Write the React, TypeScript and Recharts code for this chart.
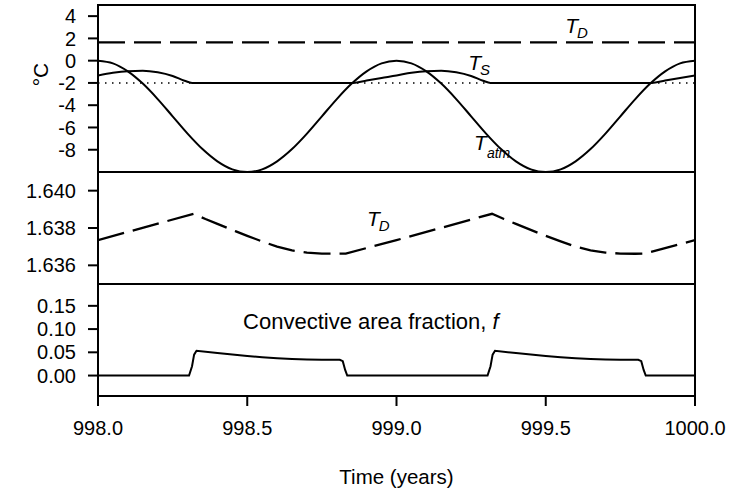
import React from 'react';
import { LineChart, Line, XAxis, YAxis, ReferenceArea, ReferenceLine, ReferenceDot } from 'recharts';

const FONT = '"Liberation Sans", Arial, Helvetica, sans-serif';

// Tick labels
const X_TICKS = [998, 998.5, 999, 999.5, 1000];
const TEMP_TICKS = [4, 2, 0, -2, -4, -6, -8];
const DEEP_TICKS = [1.636, 1.638, 1.64];
const FRAC_TICKS = [0, 0.05, 0.1, 0.15];

// Atmospheric temperature (°C)
const atmTimes = [998.0, 998.05, 998.1, 998.15, 998.2, 998.25, 998.3, 998.35, 998.4, 998.45, 998.5, 998.55, 998.6, 998.65, 998.7, 998.75, 998.8, 998.85, 998.9, 998.95, 999.0, 999.05, 999.1, 999.15, 999.2, 999.25, 999.3, 999.35, 999.4, 999.45, 999.5, 999.55, 999.6, 999.65, 999.7, 999.75, 999.8, 999.85, 999.9, 999.95, 1000.0];
const atmTemps = [0, -0.24, -0.96, -2.06, -3.45, -5.0, -6.55, -7.94, -9.04, -9.76, -10.0, -9.76, -9.04, -7.94, -6.55, -5.0, -3.45, -2.06, -0.96, -0.24, 0, -0.24, -0.96, -2.06, -3.45, -5.0, -6.55, -7.94, -9.04, -9.76, -10.0, -9.76, -9.04, -7.94, -6.55, -5.0, -3.45, -2.06, -0.96, -0.24, 0];

// Surface temperature (°C)
const surfTimes = [998.0, 998.05, 998.1, 998.15, 998.2, 998.25, 998.29, 998.315, 998.855, 998.9, 998.95, 999.0, 999.05, 999.1, 999.15, 999.2, 999.25, 999.29, 999.315, 999.855, 999.9, 999.95, 1000.0];
const surfTemps = [-1.33, -1.08, -0.94, -0.91, -1.05, -1.38, -1.8, -2.0, -2.0, -1.78, -1.55, -1.33, -1.08, -0.94, -0.91, -1.05, -1.38, -1.8, -2.0, -2.0, -1.78, -1.55, -1.33];

// Deep temperature (°C)
const deepTimes = [998.0, 998.32, 998.36, 998.4, 998.46, 998.5, 998.55, 998.6, 998.65, 998.7, 998.75, 998.8, 998.83, 999.0, 999.32, 999.36, 999.4, 999.46, 999.5, 999.55, 999.6, 999.65, 999.7, 999.75, 999.8, 999.83, 1000.0];
const deepTemps = [1.63735, 1.63876, 1.63848, 1.63822, 1.63783, 1.63758, 1.63728, 1.637, 1.6368, 1.63668, 1.63663, 1.63662, 1.63663, 1.63735, 1.63876, 1.63848, 1.63822, 1.63783, 1.63758, 1.63728, 1.637, 1.6368, 1.63668, 1.63663, 1.63662, 1.63663, 1.63735];

// Convective area fraction
const fracTimes = [998.0, 998.305, 998.315, 998.322, 998.33, 998.4, 998.45, 998.5, 998.55, 998.6, 998.65, 998.7, 998.75, 998.81, 998.82, 998.828, 998.835, 999.305, 999.315, 999.322, 999.33, 999.4, 999.45, 999.5, 999.55, 999.6, 999.65, 999.7, 999.75, 999.81, 999.82, 999.828, 999.835, 1000.0];
const fracValues = [0, 0, 0.02, 0.045, 0.0532, 0.0485, 0.0452, 0.0422, 0.0395, 0.0373, 0.0357, 0.0346, 0.034, 0.0338, 0.031, 0.012, 0, 0, 0.02, 0.045, 0.0532, 0.0485, 0.0452, 0.0422, 0.0395, 0.0373, 0.0357, 0.0346, 0.034, 0.0338, 0.031, 0.012, 0, 0];

const FREEZING = -2;

const zip = (ts: number[], vs: number[]) => ts.map((t, i) => ({ t, v: vs[i] }));
const atmData = zip(atmTimes, atmTemps);
const surfData = zip(surfTimes, surfTemps);
const deepData = zip(deepTimes, deepTemps);
const fracData = zip(fracTimes, fracValues);

const X_DOMAIN: [number, number] = [998, 1000];
const TEMP_DOMAIN: [number, number] = [-10, 5];
const DEEP_DOMAIN: [number, number] = [1.635, 1.641];
const FRAC_DOMAIN: [number, number] = [-0.044, 0.197];

const tickStyle = { fill: '#000', fontSize: 20, fontFamily: FONT };
const tickLineStyle = { stroke: '#000', strokeWidth: 2 };

const SubLabel = (props: any) => {
  const { viewBox, main, sub, size = 21, subSize = 15, subDy = 5, subDx = -1 } = props;
  if (!viewBox) return null;
  return (
    <text x={viewBox.x} y={viewBox.y} fontFamily={FONT} fontSize={size} fill="#000" fontStyle="italic">
      <tspan>{main}</tspan>
      <tspan fontSize={subSize} dy={subDy} dx={subDx}>{sub}</tspan>
    </text>
  );
};

const PlainLabel = (props: any) => {
  const { viewBox } = props;
  if (!viewBox) return null;
  return (
    <text x={viewBox.x} y={viewBox.y} fontFamily={FONT} fontSize={22} fill="#000">
      <tspan>Convective area fraction, </tspan>
      <tspan fontStyle="italic">f</tspan>
    </text>
  );
};

const YUnitLabel = (props: any) => {
  const { viewBox } = props;
  if (!viewBox) return null;
  const cx = viewBox.x + 40;
  const cy = viewBox.y + viewBox.height / 2 - 14;
  return (
    <text x={cx} y={cy} transform={`rotate(-90 ${cx} ${cy})`} textAnchor="middle" dominantBaseline="central" fontFamily={FONT} fontSize={21} fill="#000">
      °C
    </text>
  );
};

const XTitle = (props: any) => {
  const { viewBox } = props;
  if (!viewBox) return null;
  return (
    <text x={viewBox.x + viewBox.width / 2} y={viewBox.y + 88} textAnchor="middle" fontFamily={FONT} fontSize={20.5} fill="#000">
      Time (years)
    </text>
  );
};

const MARGIN_RIGHT = 34;
const AXIS_W = 98;

export default function App() {
  return (
    <div style={{ position: 'absolute', left: 0, top: 0, width: 729, height: 495, background: '#fff', overflow: 'hidden' }}>
      <div style={{ position: 'absolute', left: 0, top: 0 }}>
        <LineChart width={729} height={173} margin={{ top: 5, right: MARGIN_RIGHT, bottom: 1, left: 0 }}>
          <XAxis type="number" dataKey="t" domain={X_DOMAIN} hide allowDataOverflow />
          <YAxis type="number" domain={TEMP_DOMAIN} ticks={TEMP_TICKS} interval={0} width={AXIS_W} axisLine={false}
            tickLine={tickLineStyle} tickSize={10} tickMargin={12} tick={tickStyle} allowDataOverflow label={<YUnitLabel />} />
          <ReferenceLine y={FREEZING} stroke="#000" strokeWidth={1.5} strokeDasharray="1.5 5.5" />
          <Line data={deepData} dataKey="v" type="linear" stroke="#000" strokeWidth={2.3} strokeDasharray="27 9" dot={false} isAnimationActive={false} />
          <Line data={atmData} dataKey="v" type="monotone" stroke="#000" strokeWidth={2} dot={false} isAnimationActive={false} />
          <Line data={surfData} dataKey="v" type="monotone" stroke="#000" strokeWidth={2} dot={false} isAnimationActive={false} />
          <ReferenceArea x1={998} x2={1000} y1={-10} y2={5} fill="none" stroke="#000" strokeWidth={2} ifOverflow="visible" />
          <ReferenceDot x={999.565} y={2.5} r={0} fill="none" stroke="none" label={<SubLabel main="T" sub="D" />} />
          <ReferenceDot x={999.24} y={-0.84} r={0} fill="none" stroke="none" label={<SubLabel main="T" sub="S" />} />
          <ReferenceDot x={999.26} y={-8.02} r={0} fill="none" stroke="none" label={<SubLabel main="T" sub="atm" subSize={14} subDy={8} subDx={0} />} />
        </LineChart>
      </div>
      <div style={{ position: 'absolute', left: 0, top: 172 }}>
        <LineChart width={729} height={112} margin={{ top: 0, right: MARGIN_RIGHT, bottom: 0, left: 0 }}>
          <XAxis type="number" dataKey="t" domain={X_DOMAIN} hide allowDataOverflow />
          <YAxis type="number" domain={DEEP_DOMAIN} ticks={DEEP_TICKS} interval={0} width={AXIS_W} axisLine={false}
            tickLine={tickLineStyle} tickSize={10} tickMargin={12} tick={tickStyle} allowDataOverflow
            tickFormatter={(v: number) => v.toFixed(3)} />
          <Line data={deepData} dataKey="v" type="linear" stroke="#000" strokeWidth={2.3} strokeDasharray="27 9" dot={false} isAnimationActive={false} />
          <ReferenceArea x1={998} x2={1000} y1={1.635} y2={1.641} fill="none" stroke="#000" strokeWidth={2} ifOverflow="visible" />
          <ReferenceDot x={998.901} y={1.63813} r={0} fill="none" stroke="none" label={<SubLabel main="T" sub="D" />} />
        </LineChart>
      </div>
      <div style={{ position: 'absolute', left: 0, top: 284 }}>
        <LineChart width={729} height={211} margin={{ top: 0, right: MARGIN_RIGHT, bottom: 0, left: 0 }}>
          <XAxis type="number" dataKey="t" domain={X_DOMAIN} ticks={X_TICKS} interval={0} height={99} axisLine={false}
            tickLine={tickLineStyle} tickSize={10} tickMargin={15} tick={tickStyle} allowDataOverflow
            tickFormatter={(v: number) => v.toFixed(1)} label={<XTitle />} />
          <YAxis type="number" domain={FRAC_DOMAIN} ticks={FRAC_TICKS} interval={0} width={AXIS_W} axisLine={false}
            tickLine={tickLineStyle} tickSize={10} tickMargin={12} tick={tickStyle} allowDataOverflow
            tickFormatter={(v: number) => v.toFixed(2)} />
          <Line data={fracData} dataKey="v" type="linear" stroke="#000" strokeWidth={2} dot={false} isAnimationActive={false} />
          <ReferenceArea x1={998} x2={1000} y1={FRAC_DOMAIN[0]} y2={FRAC_DOMAIN[1]} fill="none" stroke="#000" strokeWidth={2} ifOverflow="visible" />
          <ReferenceDot x={998.486} y={0.0994} r={0} fill="none" stroke="none" label={<PlainLabel />} />
        </LineChart>
      </div>
    </div>
  );
}
